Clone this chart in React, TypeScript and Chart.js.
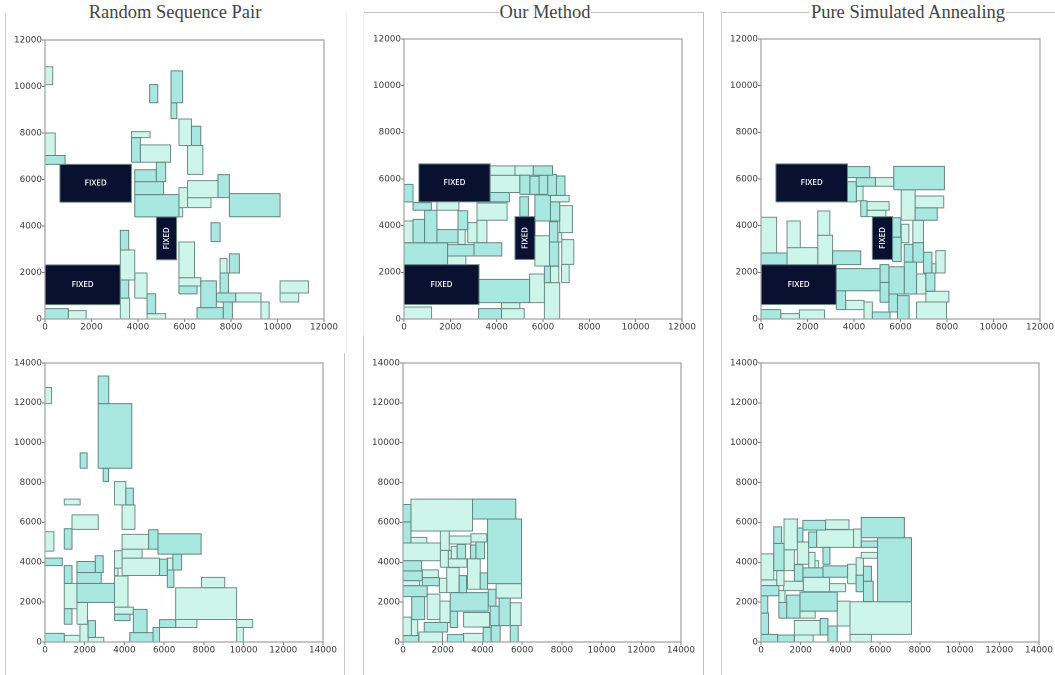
import React, { useEffect, useRef } from "react";
import { Chart, registerables } from "chart.js";

Chart.register(...registerables);

type Rect = number[];

const titles = ["Random Sequence Pair", "Our Method", "Pure Simulated Annealing"];
const ticks12 = [0, 2000, 4000, 6000, 8000, 10000, 12000];
const ticks14 = [0, 2000, 4000, 6000, 8000, 10000, 12000, 14000];
const fixedLabel = "FIXED";

// every rectangle is [x start, x end, y start, y end]
const fixedBlocks: Rect[] = [
  [640, 3720, 5020, 6650],
  [0, 3240, 620, 2330],
  [4790, 5660, 2550, 4390],
];

const p1Dark: Rect[] = [
  [4500, 4850, 9300, 10080], [5420, 5920, 9300, 10670], [5420, 5670, 8620, 9300], [6300, 6700, 7460, 8290],
  [0, 860, 6650, 7030], [3720, 4100, 6740, 7800], [4790, 5190, 5910, 6740], [3860, 4790, 5910, 6420],
  [3860, 5100, 5350, 5910], [3860, 5760, 4390, 5350], [7440, 7930, 5220, 6210], [7930, 10110, 4400, 5390],
  [7140, 7530, 3330, 4140], [3240, 3600, 2970, 3810], [5760, 6540, 1080, 1420], [7930, 8360, 1980, 2800],
  [7530, 7890, 1120, 1980], [6700, 7370, 490, 1640], [7370, 8200, 730, 1120], [7670, 8060, 0, 730],
  [6540, 7670, 0, 490], [3240, 3600, 900, 1680], [4390, 4760, 230, 1080], [0, 1000, 0, 445],
];
const p1Light: Rect[] = [
  [0, 330, 10080, 10850], [5760, 6300, 7460, 8600], [6130, 6790, 6220, 7460], [0, 440, 7030, 8000],
  [3720, 4520, 7800, 8060], [4100, 5400, 6740, 7490], [5760, 6130, 4790, 5650], [5760, 5920, 4390, 4790],
  [6130, 7440, 5220, 5950], [6130, 7140, 4790, 5220], [3240, 3860, 1680, 2970], [5760, 6430, 1780, 3310],
  [5760, 6700, 1420, 1780], [7530, 7830, 1980, 2600], [8200, 9290, 730, 1120], [9290, 9640, 0, 730],
  [10110, 11330, 1120, 1640], [10110, 10910, 730, 1120], [3860, 4390, 900, 1980], [3240, 3640, 0, 900],
  [4390, 5190, 0, 230], [1000, 1770, 0, 360],
];

const p2Dark: Rect[] = [
  [5580, 6410, 6160, 6560], [5000, 5430, 5340, 6160], [5430, 5830, 5340, 6120], [5830, 6200, 5340, 6160],
  [6200, 6580, 5300, 6190], [6580, 6950, 5300, 6130], [3720, 4550, 5020, 5420], [0, 390, 5020, 5770],
  [390, 1180, 4660, 4990], [5000, 5370, 4400, 5240], [5650, 6320, 4200, 5320], [6320, 6720, 4200, 5020],
  [890, 1420, 3270, 4660], [390, 890, 3270, 4270], [2330, 2750, 3830, 4640], [1420, 2330, 3270, 3830],
  [0, 1880, 2330, 3260], [1880, 3020, 2700, 3190], [3020, 4220, 2700, 3270], [3240, 5420, 700, 1700],
  [6280, 6680, 2270, 3300], [6280, 6640, 3300, 4170], [6060, 6320, 1560, 2260], [3220, 4210, 0, 443],
];
const p2Light: Rect[] = [
  [3720, 4790, 6160, 6560], [4790, 5580, 6160, 6560], [3720, 5000, 5420, 6160], [6320, 7130, 5020, 5300],
  [1420, 2370, 4660, 5020], [3150, 4450, 4230, 4970], [6720, 7270, 3700, 4860], [0, 390, 3270, 4200],
  [2750, 3150, 3270, 4130], [3150, 3580, 3270, 4230], [2330, 2640, 3200, 3830], [1880, 2670, 2330, 2700],
  [5420, 6060, 700, 1930], [5650, 6280, 2270, 3570], [6640, 6810, 3300, 3700], [6810, 7330, 2340, 3400],
  [6800, 7130, 1560, 2340], [6320, 6680, 1560, 2260], [6060, 6720, 0, 1560], [4210, 5000, 443, 700],
  [4210, 5190, 0, 443], [0, 1190, 0, 514],
];

const p3Dark: Rect[] = [
  [3720, 4680, 6060, 6530], [4100, 4920, 5690, 6060], [5710, 7890, 5540, 6540], [3720, 4100, 5020, 5890],
  [4290, 4560, 4390, 5070], [6630, 7580, 4230, 4760], [0, 1120, 2330, 2830], [3080, 4290, 2330, 2920],
  [3240, 5120, 1210, 2160], [5120, 5500, 1570, 2330], [5120, 5500, 720, 1570], [5500, 6160, 1070, 2240],
  [6160, 6690, 1070, 2440], [7090, 7480, 1190, 1970], [5500, 5870, 300, 1070], [5870, 6370, 0, 1000],
  [4790, 5550, 0, 300], [3240, 3640, 400, 1210], [0, 850, 0, 400], [5660, 6010, 3510, 4340],
  [5660, 6030, 2460, 3510], [6160, 6530, 2440, 3200], [6530, 6990, 2440, 3270], [6990, 7350, 1970, 2860],
];
const p3Light: Rect[] = [
  [4920, 5710, 5690, 6060], [4100, 4390, 5060, 5690], [4560, 5510, 4660, 5030], [4560, 5370, 4390, 4660],
  [6030, 6630, 4230, 5540], [6630, 7860, 4760, 5270], [0, 670, 2830, 4360], [1120, 1690, 3060, 4200],
  [2440, 2960, 3590, 4630], [1120, 2440, 2330, 3060], [2440, 3080, 2330, 3590], [6690, 7090, 1070, 1930],
  [7090, 8080, 730, 1190], [6690, 7980, 0, 730], [4430, 4790, 0, 730], [3640, 4430, 400, 800],
  [850, 1650, 0, 230], [1650, 2730, 0, 390], [6030, 6360, 3270, 4060], [6530, 6990, 3270, 4230],
  [7350, 7520, 1970, 2370], [7520, 7920, 1970, 2930],
];

const p4Dark: Rect[] = [
  [2680, 3210, 11960, 13350], [2680, 4370, 8720, 11960], [2930, 3200, 8050, 8720], [1770, 2120, 8720, 9490],
  [4070, 4450, 6880, 7720], [970, 1360, 4660, 5680], [0, 870, 3830, 4210], [5220, 5690, 4660, 5630],
  [5690, 7860, 4410, 5430], [5770, 6160, 3340, 4160], [6440, 6880, 3610, 4410], [6160, 6490, 2740, 3610],
  [1610, 2530, 3490, 4040], [2530, 2930, 3490, 4330], [1610, 2830, 2940, 3490], [1610, 3500, 1990, 2940],
  [970, 1360, 2940, 3830], [970, 1360, 890, 1670], [3500, 4280, 1070, 1390], [4450, 5140, 470, 1640],
  [4270, 5440, 0, 470], [5440, 5770, 0, 730], [0, 970, 0, 430], [2170, 2540, 230, 1070], [5770, 6580, 730, 1120],
];
const p4Light: Rect[] = [
  [0, 330, 11960, 12770], [3500, 4070, 6880, 8050], [3880, 4530, 5650, 6880], [970, 1770, 6880, 7170],
  [1360, 2680, 5650, 6380], [0, 450, 4560, 5530], [3880, 5220, 4660, 5400], [3500, 3880, 3710, 4580],
  [3880, 4890, 4210, 4660], [3880, 5770, 3340, 4210], [6160, 6440, 3610, 4210], [3500, 3680, 3330, 3710],
  [970, 1610, 1670, 2940], [1610, 2140, 890, 1990], [3500, 4180, 1750, 3310], [3500, 4450, 1390, 1750],
  [1760, 2170, 0, 890], [970, 1760, 0, 330], [2170, 2960, 0, 230], [6580, 7650, 730, 1130],
  [6580, 9650, 1130, 2720], [7880, 9050, 2720, 3240], [9650, 10460, 730, 1130], [9650, 9990, 0, 730],
];

const p5Dark: Rect[] = [
  [3500, 5680, 6170, 7170], [4260, 5970, 2930, 6170], [0, 400, 6030, 6900], [0, 400, 4970, 6030],
  [2730, 3150, 4180, 4900], [3400, 3670, 4180, 4870], [3670, 4110, 4180, 5020], [3890, 4260, 2650, 3470],
  [0, 940, 3570, 4080], [0, 970, 3080, 3570], [970, 1830, 2820, 3230], [0, 1220, 2280, 2820],
  [2830, 3200, 2480, 3330], [2380, 4290, 1550, 2480], [4290, 4680, 1800, 2650], [4390, 4840, 820, 1800],
  [4840, 5400, 820, 2200], [5400, 5800, 0, 830], [4440, 4890, 0, 820], [4040, 4440, 0, 730],
  [2230, 3050, 0, 370], [2380, 2750, 730, 1550], [440, 1090, 1120, 2280], [1070, 2250, 500, 980], [0, 790, 0, 320],
];
const p5Light: Rect[] = [
  [400, 3500, 5570, 7170], [4690, 5970, 2200, 2930], [400, 1200, 4970, 5250], [0, 1880, 4080, 4970],
  [1880, 2330, 4600, 5570], [2330, 3420, 4920, 5320], [3420, 4220, 5020, 5430], [1880, 2280, 3750, 4600],
  [2280, 2430, 4180, 4600], [2430, 2730, 4180, 4800], [2280, 3220, 3750, 4180], [3250, 3890, 2650, 4180],
  [970, 1780, 3230, 3620], [0, 840, 2820, 3080], [1830, 2200, 2480, 3200], [2200, 2830, 2480, 3730],
  [5400, 5950, 830, 1970], [3050, 4360, 750, 1480], [3050, 4040, 0, 430], [1860, 2380, 980, 2050],
  [1220, 1860, 1120, 2400], [800, 1990, 0, 500], [0, 420, 320, 1250], [420, 740, 320, 1120],
];

const p6Dark: Rect[] = [
  [640, 1040, 4950, 5780], [640, 1160, 3580, 4950], [0, 900, 2320, 2830], [1830, 2110, 5020, 5720],
  [2110, 3250, 5620, 6100], [2400, 2800, 4750, 5520], [5050, 7220, 5230, 6250], [5050, 5870, 4750, 5070],
  [5870, 7580, 2020, 5230], [3120, 3470, 3900, 4750], [1680, 2110, 3050, 3880], [2110, 3120, 3250, 3720],
  [3120, 4360, 3250, 3820], [4790, 5160, 2520, 3350], [5160, 5560, 3050, 3800], [5160, 5650, 2030, 3050],
  [0, 340, 1450, 2320], [0, 380, 380, 1450], [900, 1290, 1200, 1980], [1290, 1960, 1200, 2350],
  [1960, 3840, 1550, 2500], [3370, 3840, 0, 800], [2980, 3370, 350, 1180], [840, 1680, 0, 350], [0, 840, 0, 380],
];
const p6Light: Rect[] = [
  [1160, 1830, 4630, 6170], [1160, 1680, 3580, 4630], [0, 640, 3120, 4420], [0, 790, 2830, 3120],
  [790, 1160, 2830, 3580], [3250, 4430, 5650, 6130], [2800, 4660, 4750, 5630], [4660, 5050, 4750, 5670],
  [5050, 5870, 4200, 4500], [1830, 2400, 3900, 5020], [2400, 2720, 3700, 4500], [2720, 2900, 3700, 4080],
  [4360, 4790, 2920, 3900], [4790, 5160, 3350, 4220], [1140, 2130, 2580, 3050], [2130, 3450, 2520, 3250],
  [3450, 4260, 2520, 2930], [900, 1210, 1980, 2580], [1960, 2730, 1200, 1550], [3840, 4480, 800, 2050],
  [4480, 7580, 380, 2020], [4480, 5560, 0, 380], [1680, 2980, 350, 1080], [1680, 2630, 0, 350],
];

const panels = [
  { left: 44.5, top: 39.5, right: 324, bottom: 318.5, max: 12000, ticks: ticks12, dark: p1Dark, light: p1Light, fixed: fixedBlocks },
  { left: 403.5, top: 38.5, right: 682, bottom: 318.5, max: 12000, ticks: ticks12, dark: p2Dark, light: p2Light, fixed: fixedBlocks },
  { left: 760.5, top: 38.5, right: 1039.5, bottom: 318.5, max: 12000, ticks: ticks12, dark: p3Dark, light: p3Light, fixed: fixedBlocks },
  { left: 44.5, top: 362.5, right: 323, bottom: 642, max: 14000, ticks: ticks14, dark: p4Dark, light: p4Light, fixed: [] as Rect[] },
  { left: 402.5, top: 362.5, right: 681, bottom: 642, max: 14000, ticks: ticks14, dark: p5Dark, light: p5Light, fixed: [] as Rect[] },
  { left: 760.5, top: 362.5, right: 1039, bottom: 642, max: 14000, ticks: ticks14, dark: p6Dark, light: p6Light, fixed: [] as Rect[] },
];

const DARK = "#a8e8e0";
const LIGHT = "#cdf5ea";
const FIXED = "#0a1030";
const EDGE_DARK = "#648481";
const EDGE_LIGHT = "#6f8d88";
const GAP_L = 42, GAP_R = 18, GAP_T = 8, GAP_B = 26;

const outline = ([x0, x1, y0, y1]: Rect) => [
  { x: x0, y: y0 }, { x: x1, y: y0 }, { x: x1, y: y1 }, { x: x0, y: y1 }, { x: x0, y: y0 },
];

const rectSet = (r: Rect, color: string, edge: string) => ({
  data: outline(r),
  showLine: true,
  tension: 0,
  fill: "shape",
  backgroundColor: color,
  borderColor: edge,
  borderWidth: 1,
  pointRadius: 0,
  pointHoverRadius: 0,
});

const framePlugin = {
  id: "frameAndLabels",
  afterDatasetsDraw(chart: any, _a: any, opts: any) {
    const { ctx, chartArea: a, scales } = chart;
    ctx.save();
    ctx.strokeStyle = "#a0a0a0";
    ctx.lineWidth = 1.2;
    ctx.strokeRect(a.left, a.top, a.right - a.left, a.bottom - a.top);
    ctx.fillStyle = "#ffffff";
    ctx.font = "600 8px 'Open Sans'";
    ctx.textAlign = "center";
    ctx.textBaseline = "middle";
    for (const [x0, x1, y0, y1] of opts.fixed as Rect[]) {
      const cx = scales.x.getPixelForValue((x0 + x1) / 2);
      const cy = scales.y.getPixelForValue((y0 + y1) / 2);
      ctx.save();
      ctx.translate(cx, cy);
      if (y1 - y0 > x1 - x0) ctx.rotate(-Math.PI / 2);
      ctx.fillText(fixedLabel, 0, 0);
      ctx.restore();
    }
    ctx.restore();
  },
};

function Panel({ p }: { p: (typeof panels)[number] }) {
  const ref = useRef<HTMLCanvasElement>(null);
  useEffect(() => {
    const tickFont = { family: "'DejaVu Sans'", size: 8.8 };
    const fitY = (s: any) => { s.width = GAP_L; };
    const fitX = (s: any) => { s.height = GAP_B; };
    const plain = (v: any) => String(v);
    const chart = new Chart(ref.current!, {
      type: "scatter",
      data: {
        datasets: [
          ...p.dark.map((r) => rectSet(r, DARK, EDGE_DARK)),
          ...p.light.map((r) => rectSet(r, LIGHT, EDGE_LIGHT)),
          ...p.fixed.map((r) => rectSet(r, FIXED, EDGE_LIGHT)),
        ],
      },
      plugins: [framePlugin],
      options: {
        animation: false,
        responsive: false,
        devicePixelRatio: 2,
        layout: { autoPadding: false, padding: { left: 0, top: GAP_T, right: GAP_R, bottom: 0 } },
        plugins: { legend: { display: false }, tooltip: { enabled: false }, frameAndLabels: { fixed: p.fixed } },
        scales: {
          x: {
            type: "linear", min: 0, max: p.max, afterFit: fitX,
            afterBuildTicks: (s: any) => { s.ticks = p.ticks.map((value) => ({ value })); },
            grid: { drawOnChartArea: false, drawTicks: true, tickLength: 3, color: "#777" },
            border: { color: "#a0a0a0" },
            ticks: { font: tickFont, color: "#3a3a3a", maxRotation: 0, padding: 0, autoSkip: false, callback: plain },
          },
          y: {
            type: "linear", min: 0, max: p.max, afterFit: fitY,
            afterBuildTicks: (s: any) => { s.ticks = p.ticks.map((value) => ({ value })); },
            grid: { drawOnChartArea: false, drawTicks: true, tickLength: 3, color: "#777" },
            border: { color: "#a0a0a0" },
            ticks: { font: tickFont, color: "#3a3a3a", padding: 0, autoSkip: false, callback: plain },
          },
        },
      } as any,
    } as any);
    return () => chart.destroy();
  }, [p]);
  const w = p.right - p.left + GAP_L + GAP_R;
  const h = p.bottom - p.top + GAP_T + GAP_B;
  return (
    <canvas
      ref={ref}
      width={w}
      height={h}
      style={{ position: "absolute", left: p.left - GAP_L, top: p.top - GAP_T, width: w, height: h, filter: "blur(0.45px)" }}
    />
  );
}

const rule = (left: number, top: number, width: number, height: number, color: string) => (
  <div key={`${left}-${top}`} style={{ position: "absolute", left, top, width, height, background: color }} />
);

const titleStyle = (cx: number, top: number): React.CSSProperties => ({
  position: "absolute", left: cx - 150, top, width: 300, textAlign: "center",
  fontFamily: "'Liberation Serif'", fontSize: 18.5, lineHeight: "24px", color: "#444",
});

export default function App() {
  return (
    <div style={{ position: "fixed", left: 0, top: 0, width: 1055, height: 675, background: "#fff", overflow: "hidden" }}>
      {rule(5, 13, 1, 662, "#c8c8c8")}
      {rule(346, 13, 1, 340, "#eeeeee")}
      {rule(344, 353, 1, 322, "#c8c8c8")}
      {rule(363, 13, 1, 322, "#eeeeee")}
      {rule(363, 335, 1, 340, "#cccccc")}
      {rule(364, 12, 340, 1, "#c4c4c4")}
      {rule(703, 12, 1, 663, "#bcbcbc")}
      {rule(721, 12, 334, 1, "#c4c4c4")}
      {rule(721, 13, 1, 662, "#cccccc")}
      <div style={titleStyle(175, 0)}>{titles[0]}</div>
      <div style={titleStyle(545, 0)}><span style={{ background: "#fff", padding: "0 1px" }}>{titles[1]}</span></div>
      <div style={titleStyle(908, 0)}><span style={{ background: "#fff", padding: "0 1px" }}>{titles[2]}</span></div>
      {panels.map((p, i) => <Panel key={i} p={p} />)}
    </div>
  );
}
